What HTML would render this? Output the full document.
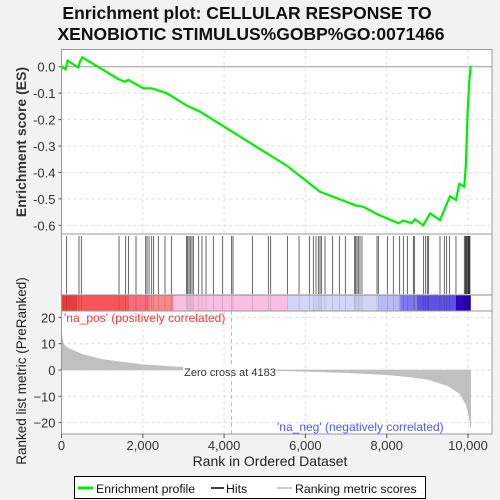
<!DOCTYPE html>
<html><head><meta charset="utf-8"><style>
body{margin:0;background:#f2f2f2;font-family:"Liberation Sans","DejaVu Sans",sans-serif}
svg{display:block}
</style></head><body>
<svg id="c" width="500" height="500" viewBox="0 0 500 500">
<rect width="500" height="500" fill="#f2f2f2"/>
<text x="247" y="19" text-anchor="middle" font-size="17.5" font-weight="bold" fill="#111">Enrichment plot: CELLULAR RESPONSE TO</text>
<text x="251" y="40" text-anchor="middle" font-size="17.5" font-weight="bold" fill="#111">XENOBIOTIC STIMULUS%GOBP%GO:0071466</text>
<g id="es-panel"></g>
<g id="hits-panel"></g>
<g id="metric-panel"></g>
<text transform="translate(26,142) rotate(-90)" text-anchor="middle" font-size="14" font-weight="bold" fill="#333">Enrichment score (ES)</text>
<text transform="translate(26,371) rotate(-90)" text-anchor="middle" font-size="13.5" fill="#222">Ranked list metric (PreRanked)</text>
<text x="270" y="466" text-anchor="middle" font-size="14" fill="#222">Rank in Ordered Dataset</text>
<g>
<rect x="74.5" y="476.5" width="351" height="22" fill="#fff" stroke="#000"/>
<line x1="78" y1="488" x2="93" y2="488" stroke="#00ee00" stroke-width="3"/>
<text x="96" y="493" font-size="12.3" fill="#111">Enrichment profile</text>
<line x1="211" y1="488" x2="224" y2="488" stroke="#000" stroke-width="1.5"/>
<text x="226" y="493" font-size="12.3" fill="#111">Hits</text>
<line x1="277" y1="488" x2="292" y2="488" stroke="#bbb" stroke-width="1.5"/>
<text x="295" y="493" font-size="12.3" fill="#111">Ranking metric scores</text>
</g>
</svg>
<script>
const esRanks=[0,100,150,414,455,512,1398,1562,1644,2013,2218,2587,3079,3407,5556,6359,7261,7425,7753,8286,8409,8614,8696,8901,9065,9311,9557,9704,9786,9909,9950,9991,10032,10065];
const esValues=[0,-0.01,0.023,-0.003,0.02,0.035,-0.047,-0.057,-0.05,-0.082,-0.082,-0.1,-0.147,-0.17,-0.376,-0.473,-0.526,-0.53,-0.557,-0.592,-0.582,-0.592,-0.577,-0.6,-0.555,-0.58,-0.49,-0.504,-0.443,-0.454,-0.365,-0.17,-0.057,0.004];
const hitRanks=[127,430,488,1415,1579,1645,1833,2071,2104,2153,2219,2268,2382,2546,2702,3079,3104,3137,3169,3210,3243,3374,3456,3555,3735,3965,4186,4219,4695,5088,5146,5556,5843,6097,6195,6261,6318,6359,6392,6482,6671,6835,6982,7212,7237,7269,7302,7343,7392,7761,7794,8016,8163,8319,8409,8508,8655,8680,8909,8959,9000,9032,9311,9417,9475,9548,9704,9909,9934,9950,9967,9991,10005,10016,10030,10048];
const metricRanks=[0,20,50,100,200,500,1000,1500,2000,3000,4183,5000,5500,6000,7000,8000,8500,9000,9500,9800,9950,10020,10050,10065];
const metricValues=[15,12,10,9,8,6,4,3,2,1,0,-0.2,-0.3,-0.5,-1,-1.8,-2.5,-3.5,-6,-9,-13,-17,-20,-22];
const esTicks=[0,-0.1,-0.2,-0.3,-0.4,-0.5,-0.6];
const esTickLabels=["0.0","-0.1","-0.2","-0.3","-0.4","-0.5","-0.6"];
const xTicks=[0,2000,4000,6000,8000,10000];
const xTickLabels=["0","2,000","4,000","6,000","8,000","10,000"];
const metricTicks=[20,10,0,-10,-20];
const barSegs=[[0,400,"#e53d3d"],[400,1650,"#f75656"],[1650,2150,"#fb6b7b"],[2150,2760,"#fb8888"],[2760,5560,"#f9bfe2"],[5560,7800,"#d4d4fa"],[7800,8330,"#b9b9f4"],[8330,8740,"#7b7bee"],[8740,9700,"#5e52e2"],[9700,10070,"#2a06c2"]];
const NS="http://www.w3.org/2000/svg";
const X0=61.5,X1=492,xs=r=>X0+r*0.04065;
const esY=v=>66.7-v*264.4;
const mY=v=>370-v*2.63;
function mk(p,t,a){const e=document.createElementNS(NS,t);for(const k in a)e.setAttribute(k,a[k]);p.appendChild(e);return e;}
const es=document.getElementById('es-panel'),hp=document.getElementById('hits-panel'),mp=document.getElementById('metric-panel');
mk(es,'rect',{x:X0,y:49.5,width:X1-X0,height:184.5,fill:'#fff'});
mk(hp,'rect',{x:X0,y:234,width:X1-X0,height:77,fill:'#fff'});
mk(mp,'rect',{x:X0,y:311,width:X1-X0,height:123,fill:'#fff'});
xTicks.forEach((t,i)=>{if(i==0)return;
 const g1=mk(es,'line',{x1:xs(t),x2:xs(t),y1:50,y2:234,stroke:'#ddd','stroke-dasharray':'3,3'});
 
 mk(mp,'line',{x1:xs(t),x2:xs(t),y1:311,y2:434,stroke:'#ddd','stroke-dasharray':'3,3'});});
esTicks.forEach((t,i)=>{
 mk(es,'line',{x1:X0,x2:X1,y1:esY(t),y2:esY(t),stroke:t==0?'#999':'#ddd','stroke-dasharray':t==0?'':'3,3'});
 mk(es,'line',{x1:X0-3,x2:X0,y1:esY(t),y2:esY(t),stroke:'#555'});
 const tx=mk(es,'text',{x:X0-6,y:esY(t)+5,'text-anchor':'end','font-size':13,fill:'#333'});tx.textContent=esTickLabels[i];
 });
metricTicks.forEach(t=>{
 mk(mp,'line',{x1:X0,x2:X1,y1:mY(t),y2:mY(t),stroke:'#ddd','stroke-dasharray':'3,3'});
 mk(mp,'line',{x1:X0-3,x2:X0,y1:mY(t),y2:mY(t),stroke:'#555'});
 const tx=mk(mp,'text',{x:X0-6,y:mY(t)+5,'text-anchor':'end','font-size':13,fill:'#333'});tx.textContent=String(t).replace('-','\u2212');
 });
mk(mp,'line',{x1:xs(4183),x2:xs(4183),y1:311,y2:434,stroke:'#bbb','stroke-dasharray':'4,3'});
let d='M'+xs(0)+','+mY(0);
metricRanks.forEach((r,i)=>{d+=' L'+xs(r)+','+mY(metricValues[i]);});
d+=' L'+xs(metricRanks[metricRanks.length-1])+','+mY(0)+'Z';
const mf=mk(mp,'path',{d:d,fill:'#c0c0c0',stroke:'#b8b8b8','stroke-width':0.5});

mk(mp,'rect',{x:183,y:366,width:92,height:9,fill:'#fff'});
const zl=mk(mp,'text',{x:230,y:376,'text-anchor':'middle','font-size':11,fill:'#333'});zl.textContent='Zero cross at 4183';

const pl=mk(mp,'text',{x:64,y:322,'font-size':12,fill:'#f33'});pl.textContent="'na_pos' (positively correlated)";

const nl=mk(mp,'text',{x:277,y:431,'font-size':12,fill:'#55f'});nl.textContent="'na_neg' (negatively correlated)";

barSegs.forEach(s=>{const r=mk(hp,'rect',{x:xs(s[0]),y:295,width:xs(s[1])-xs(s[0]),height:16,fill:s[2]});
 });
hitRanks.forEach(h=>{const l=mk(hp,'line',{x1:xs(h),x2:xs(h),y1:236,y2:294,stroke:'#000','stroke-width':0.8,opacity:0.75});
 
 mk(hp,'line',{x1:xs(h),x2:xs(h),y1:295,y2:311,stroke:'#000','stroke-width':0.6,opacity:0.2});});
mk(hp,'line',{x1:X0,x2:X1,y1:295,y2:295,stroke:'#888'});
const pts=esRanks.map((r,i)=>xs(r)+','+esY(esValues[i])).join(' ');
const el=mk(es,'polyline',{points:pts,fill:'none',stroke:'#00ee00','stroke-width':2.2});

mk(es,'rect',{x:X0,y:49.5,width:X1-X0,height:184.5,fill:'none',stroke:'#999'});
mk(hp,'rect',{x:X0,y:234,width:X1-X0,height:77,fill:'none',stroke:'#999'});
mk(mp,'rect',{x:X0,y:311,width:X1-X0,height:123,fill:'none',stroke:'#999'});
xTicks.forEach((t,i)=>{mk(mp,'line',{x1:xs(t),x2:xs(t),y1:434,y2:438,stroke:'#555'});
 const tx=mk(mp,'text',{x:xs(t),y:450,'text-anchor':'middle','font-size':13,fill:'#333'});tx.textContent=xTickLabels[i];
 });
</script>
</body></html>
